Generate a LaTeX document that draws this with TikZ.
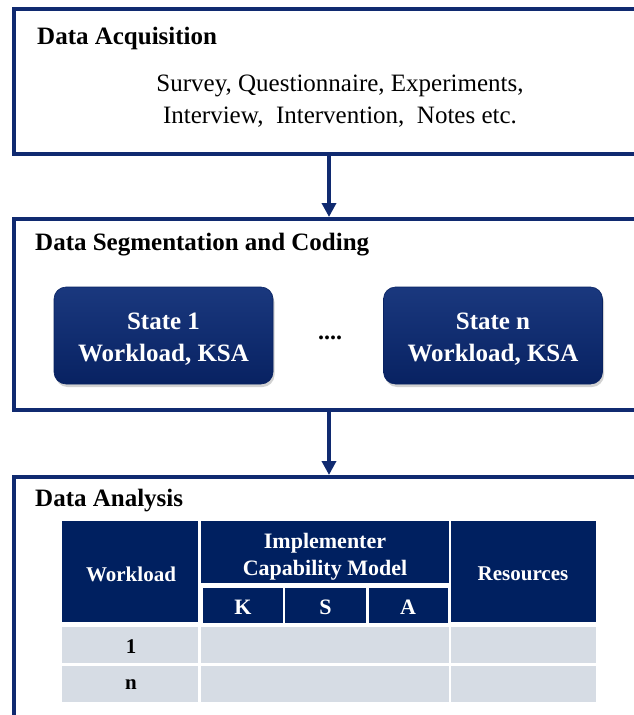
\documentclass[tikz,border=0pt]{standalone}
\usepackage{fontspec}
\setmainfont{Liberation Serif}
\usetikzlibrary{arrows.meta,shadows}
\definecolor{boxline}{RGB}{16,42,112}
\definecolor{hdr}{RGB}{0,32,96}
\definecolor{body}{RGB}{214,220,228}
\definecolor{stTop}{RGB}{26,56,126}
\definecolor{stBot}{RGB}{8,34,98}
\tikzset{
  stage/.style={draw=boxline, line width=4pt, fill=white, inner sep=0pt},
  title/.style={anchor=west, font=\fontsize{25}{29}\selectfont\bfseries, inner sep=0pt},
  flow/.style={draw=boxline, line width=3.5pt, -{Triangle[width=14pt,length=14pt]}},
  statebox/.style={rounded corners=12pt, top color=stTop, bottom color=stBot, draw=stBot, line width=0.6pt,
    drop shadow={opacity=0.35, shadow xshift=1.5pt, shadow yshift=-3pt},
    minimum width=219pt, minimum height=97pt, inner sep=0pt},
  stext/.style={text=white, align=center, inner sep=0pt, font=\fontsize{25}{32}\selectfont\bfseries},
  hcell/.style={fill=hdr, text=white, align=center, inner sep=0pt, font=\fontsize{22}{27}\selectfont\bfseries},
  bcell/.style={fill=body, inner sep=0pt, font=\fontsize{21}{24}\selectfont\bfseries},
}
\begin{document}
\begin{tikzpicture}[x=1pt,y=-1pt]
\useasboundingbox (0,0) rectangle (634,715);
\clip (0,0) rectangle (634,715);
% stage boxes
\node[stage, minimum width=646pt, minimum height=145pt] (box1) at (337,81.5) {};
\node[stage, minimum width=646pt, minimum height=191pt] (box2) at (337,314.5) {};
\node[stage, minimum width=646pt, minimum height=260pt] (box3) at (337,607) {};
% titles
\node[title] (t1) at (37,38) {Data Acquisition};
\node[title] (t2) at (35,245) {Data Segmentation and Coding};
\node[title] (t3) at (35,501) {Data Analysis};
% acquisition text
\node[align=center, inner sep=0pt, font=\fontsize{25}{32}\selectfont] (acq) at (340,101)
  {Survey, Questionnaire, Experiments,\\Interview,\ \ Intervention,\ \ Notes etc.};
% arrows
\coordinate (a1) at (329,154);
\coordinate (a2) at (329,410);
\draw[flow] (a1) -- (a1 |- box2.north);
\draw[flow] (a2) -- (a2 |- box3.north);
% states
\node[statebox] (s1) at (163.5,335.5) {};
\node[statebox] (sn) at (493,335.5) {};
\node[stext] (s1t) at ([yshift=-4pt]s1.center) {State 1\\Workload,\ KSA};
\node[stext] (snt) at ([yshift=-4pt]sn.center) {State n\\Workload,\ KSA};
\node[inner sep=0pt, font=\fontsize{24}{28}\selectfont\bfseries] (dots) at (330,338) {....};
% table header
\node[hcell, minimum width=136pt, minimum height=101pt] (hw) at (130,571.5) {};
\node[hcell, font=\fontsize{21}{27}\selectfont\bfseries] (hwt) at (131,574) {Workload};
\node[hcell, minimum width=248pt, minimum height=62pt] (hi) at (325,552) {};
\node[hcell] (hit) at (325,557) {Implementer\\Capability Model};
\node[hcell, minimum width=145pt, minimum height=101pt] (hr) at (523.5,571.5) {};
\node[hcell, font=\fontsize{21}{27}\selectfont\bfseries] (hrt) at (523,574) {Resources};
\node[hcell, minimum width=80pt, minimum height=35pt] (hk) at (243,605.5) {};
\node[hcell, minimum width=81pt, minimum height=35pt] (hs) at (325.5,605.5) {};
\node[hcell, minimum width=79pt, minimum height=35pt] (ha) at (408,605.5) {};
\node[hcell, fill=none] (hkt) at (243,607.5) {K};
\node[hcell, fill=none] (hst) at (325.5,607.5) {S};
\node[hcell, fill=none] (hat) at (408,607.5) {A};
% table body
\node[bcell, minimum width=136pt, minimum height=36pt] (r1w) at (130,645) {};
\node[bcell, minimum width=248pt, minimum height=36pt] (r1m) at (325,645) {};
\node[bcell, minimum width=145pt, minimum height=36pt] (r1r) at (523.5,645) {};
\node[bcell, minimum width=136pt, minimum height=36pt] (rnw) at (130,684) {};
\node[bcell, minimum width=248pt, minimum height=36pt] (rnm) at (325,684) {};
\node[bcell, minimum width=145pt, minimum height=36pt] (rnr) at (523.5,684) {};
\node[bcell, fill=none] (r1t) at (131,647) {1};
\node[bcell, fill=none] (rnt) at (131,685) {n};
\end{tikzpicture}
\end{document}
